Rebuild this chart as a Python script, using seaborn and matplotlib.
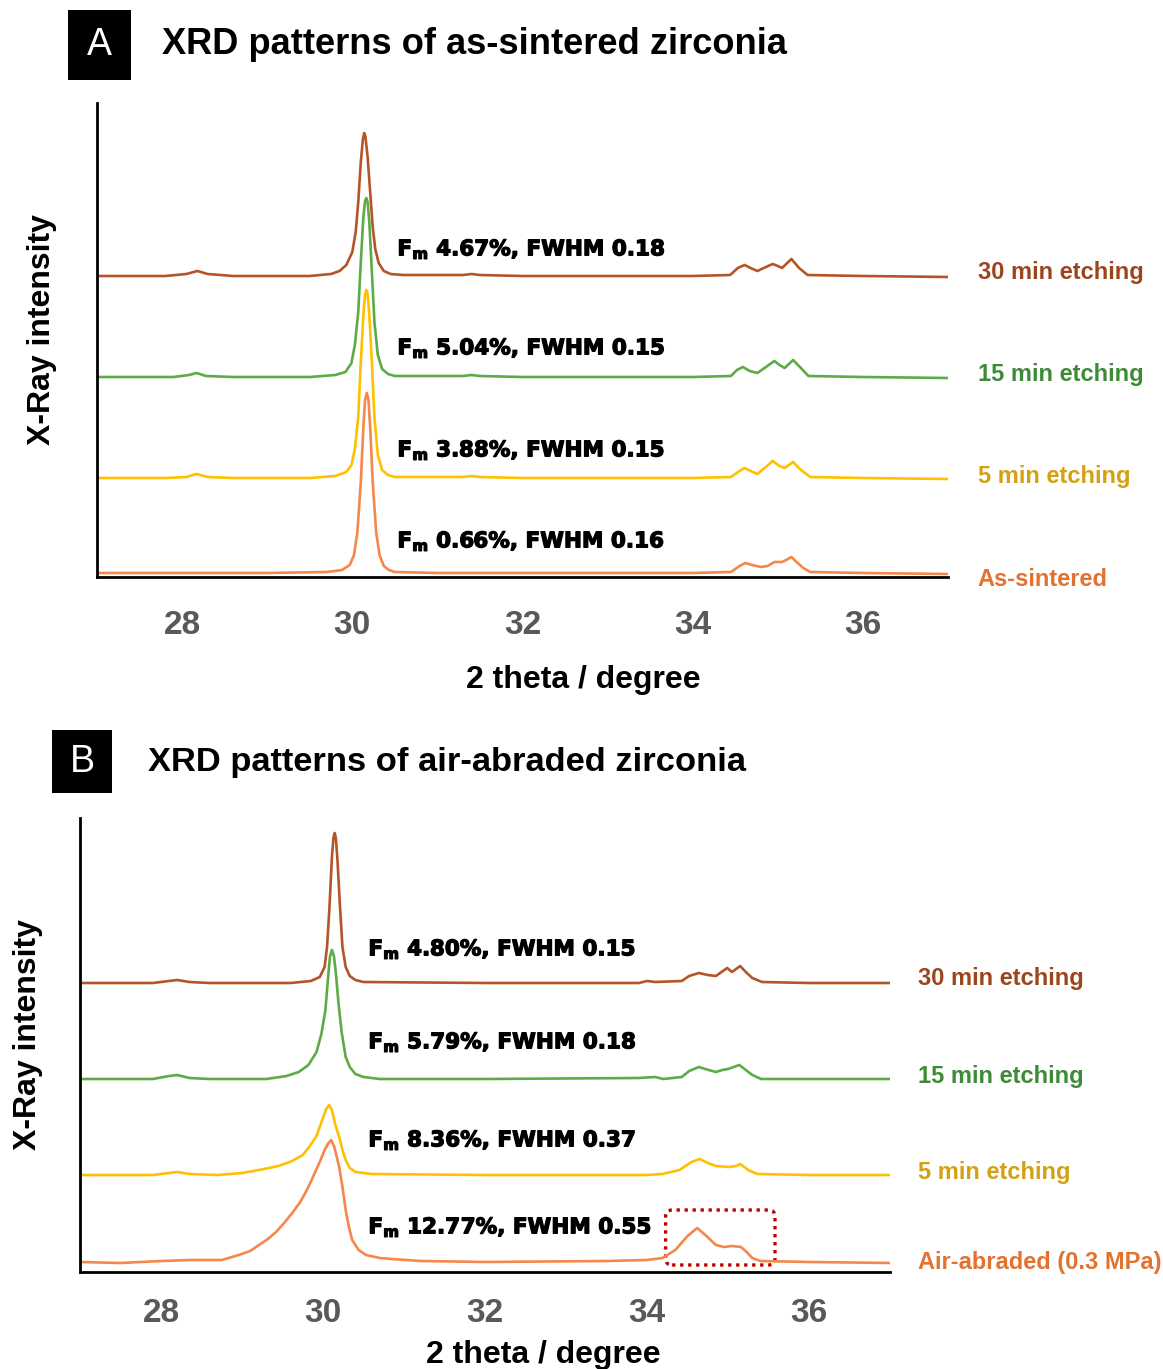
import matplotlib
matplotlib.use("Agg")
import matplotlib.pyplot as plt
import matplotlib.patheffects as pe
from matplotlib.patches import Rectangle, FancyBboxPatch
import pandas as pd
import seaborn as sns

# ---- data (x = 2 theta, y = stacked intensity, a.u.) ----
# panel A: as-sintered zirconia
a_sint_x = [27.0, 28.0, 29.0, 29.7, 29.88, 29.97, 30.02, 30.06, 30.1, 30.13, 30.15, 30.17, 30.19, 30.21,
            30.24, 30.28, 30.32, 30.37, 30.43, 30.5, 31.0, 32.0, 33.0, 34.0, 34.45, 34.55, 34.62, 34.7,
            34.8, 34.88, 34.96, 35.05, 35.1, 35.16, 35.22, 35.3, 35.38, 36.0, 37.0]
a_sint_y = [4, 4, 4, 5, 7, 12, 22, 45, 95, 150, 177, 184, 177, 150,
            95, 45, 22, 11, 7, 5, 4, 4, 4, 4, 5, 11, 14, 12,
            10, 11, 15, 15, 17, 20, 15, 9, 5, 4, 3]

a_5min_x = [27.0, 27.8, 28.05, 28.17, 28.3, 28.6, 29.5, 29.8, 29.93, 29.99, 30.03, 30.07, 30.1, 30.13,
            30.15, 30.165, 30.18, 30.2, 30.23, 30.26, 30.3, 30.35, 30.42, 30.5, 31.3, 31.4, 31.5, 32.0,
            34.0, 34.45, 34.55, 34.61, 34.68, 34.76, 34.86, 34.94, 35.02, 35.08, 35.18, 35.26, 35.38,
            36.0, 37.0]
a_5min_y = [99, 99, 100, 103, 100, 99, 99, 101, 105, 112, 128, 160, 215, 262,
            283, 287, 283, 262, 215, 160, 122, 107, 102, 100, 100, 101, 100, 99,
            99, 100, 106, 109, 106, 103, 110, 116, 111, 109, 115, 108, 100,
            99, 98]

a_15min_x = [27.0, 27.9, 28.08, 28.17, 28.28, 28.6, 29.5, 29.8, 29.92, 29.99, 30.03, 30.07, 30.1, 30.13,
             30.15, 30.165, 30.18, 30.2, 30.23, 30.26, 30.3, 30.35, 30.42, 30.5, 31.3, 31.4, 31.5, 32.0,
             34.0, 34.45, 34.52, 34.59, 34.67, 34.76, 34.86, 34.96, 35.02, 35.08, 35.18, 35.26, 35.36,
             36.0, 37.0]
a_15min_y = [200, 200, 202, 204, 201, 200, 200, 202, 205, 214, 232, 265, 315, 360,
             376, 379, 375, 355, 305, 255, 222, 208, 203, 201, 201, 202, 201, 200,
             200, 201, 207, 210, 206, 204, 210, 216, 212, 209, 217, 210, 201,
             200, 199]

a_30min_x = [27.0, 27.8, 28.05, 28.18, 28.3, 28.6, 29.5, 29.75, 29.85, 29.93, 30.0, 30.04, 30.07, 30.1,
             30.125, 30.14, 30.155, 30.18, 30.21, 30.24, 30.27, 30.31, 30.37, 30.45, 30.6, 31.3, 31.4,
             31.5, 32.0, 34.0, 34.44, 34.53, 34.61, 34.68, 34.76, 34.86, 34.94, 35.0, 35.05, 35.16,
             35.25, 35.35, 36.0, 37.0]
a_30min_y = [301, 301, 303, 306, 303, 301, 301, 303, 306, 312, 325, 345, 375, 415,
             438, 444, 440, 420, 385, 350, 328, 314, 306, 303, 302, 302, 303,
             302, 301, 301, 302, 309, 312, 309, 306, 310, 313, 311, 309, 318,
             309, 302, 301, 300]

# panel B: air-abraded zirconia
b_abr_x = [27.0, 27.5, 28.0, 28.38, 28.75, 28.96, 29.1, 29.21, 29.32, 29.42, 29.52, 29.62, 29.72, 29.8,
           29.86, 29.92, 29.97, 30.02, 30.06, 30.1, 30.14, 30.2, 30.24, 30.28, 30.32, 30.36, 30.44, 30.53,
           30.7, 30.85, 31.2, 32.0, 33.5, 34.0, 34.19, 34.35, 34.5, 34.62, 34.72, 34.85, 34.95, 35.05,
           35.16, 35.23, 35.3, 35.4, 36.0, 37.0]
b_abr_y = [10, 9, 11, 12, 12, 17, 21, 27, 33, 40, 49, 59, 70, 82,
           92, 103, 112, 122, 128, 132, 125, 105, 85, 62, 45, 32, 22, 17,
           14, 13, 11, 10, 11, 12, 14, 22, 36, 44, 37, 27, 25, 26,
           25, 20, 14, 11, 10, 9]

b_5min_x = [27.0, 27.9, 28.1, 28.2, 28.35, 28.7, 29.0, 29.21, 29.45, 29.62, 29.75, 29.83, 29.92, 29.99,
            30.04, 30.075, 30.11, 30.15, 30.2, 30.24, 30.28, 30.33, 30.4, 30.6, 32.0, 34.0, 34.19, 34.4,
            34.55, 34.65, 34.75, 34.85, 35.01, 35.1, 35.15, 35.25, 35.36, 36.0, 37.0]
b_5min_y = [97, 97, 99, 100, 98, 97, 99, 102, 106, 111, 117, 125, 136, 152,
            163, 167, 162, 148, 135, 122, 112, 104, 100, 98, 97, 97, 98, 102,
            110, 113, 109, 106, 105, 106, 108, 102, 98, 97, 97]

b_15min_x = [27.0, 27.9, 28.1, 28.2, 28.35, 28.6, 29.3, 29.55, 29.7, 29.82, 29.92, 29.98, 30.03, 30.06,
             30.085, 30.11, 30.135, 30.16, 30.19, 30.23, 30.28, 30.33, 30.4, 30.5, 30.7, 32.0, 33.9,
             34.1, 34.2, 34.43, 34.52, 34.64, 34.72, 34.85, 34.93, 35.0, 35.07, 35.14, 35.22, 35.3,
             35.41, 36.0, 37.0]
b_15min_y = [193, 193, 196, 197, 194, 193, 193, 196, 200, 207, 220, 238, 262, 292,
             315, 322, 316, 298, 270, 240, 215, 205, 198, 195, 193, 193, 194,
             195, 193, 195, 201, 205, 203, 200, 202, 203, 205, 207, 202, 197,
             193, 193, 193]

b_30min_x = [27.0, 27.9, 28.1, 28.2, 28.35, 28.6, 29.6, 29.85, 29.96, 30.02, 30.05, 30.08, 30.11, 30.13,
             30.145, 30.16, 30.18, 30.21, 30.24, 30.28, 30.33, 30.4, 30.5, 32.0, 33.9, 34.0, 34.1,
             34.43, 34.52, 34.64, 34.75, 34.85, 34.92, 34.99, 35.05, 35.15, 35.22, 35.3, 35.42, 36.0, 37.0]
b_30min_y = [289, 289, 291, 292, 290, 289, 289, 291, 295, 305, 325, 365, 415, 435,
             439, 433, 410, 365, 325, 305, 296, 292, 290, 289, 289, 291, 290,
             291, 296, 299, 297, 296, 300, 304, 300, 306, 300, 294, 290, 289, 289]

series_names_a = ["As-sintered", "5 min etching", "15 min etching", "30 min etching"]
series_names_b = ["Air-abraded (0.3 MPa)", "5 min etching", "15 min etching", "30 min etching"]
fm_labels_a = ["0.66%, FWHM 0.16", "3.88%, FWHM 0.15", "5.04%, FWHM 0.15", "4.67%, FWHM 0.18"]
fm_labels_b = ["12.77%, FWHM 0.55", "8.36%, FWHM 0.37", "5.79%, FWHM 0.18", "4.80%, FWHM 0.15"]
tick_pos = list(range(27, 38))
tick_labels = ["", "28", "", "30", "", "32", "", "34", "", "36", ""]

line_colors = ["#f5874a", "#ffc000", "#5cab46", "#b45528"]
text_colors = ["#e2722e", "#d3a112", "#3d8b37", "#9c451d"]

sns.set_theme(style="white")
plt.rcParams["font.family"] = ["Liberation Sans", "DejaVu Sans"]

fig = plt.figure(figsize=(11.63, 13.69), dpi=100)
W, H = 1163, 1369


def px_axes(left, top, right, bottom):
    return fig.add_axes([left / W, 1 - bottom / H, (right - left) / W, (bottom - top) / H])


def draw_panel(ax, curves, names, fm_texts, ylim, fm_y, name_y, fm_x, name_x, xlab, ylab, tick_pad):
    for (xs, ys), col in zip(curves, line_colors):
        df = pd.DataFrame({"x": xs, "y": ys})
        sns.lineplot(data=df, x="x", y="y", ax=ax, color=col, lw=1.9, estimator=None, sort=False)
    ax.set_xlim(27, 37)
    ax.set_ylim(*ylim)
    ax.set_xticks(tick_pos)
    ax.set_xticklabels(tick_labels)
    ax.set_yticks([])
    ax.tick_params(axis="x", direction="out", length=9, width=2, color="black", pad=tick_pad,
                   labelsize=24, labelcolor="#595959")
    for lab in ax.get_xticklabels():
        lab.set_fontweight("bold")
    sns.despine(ax=ax)
    for s in ["left", "bottom"]:
        ax.spines[s].set_color("black")
        ax.spines[s].set_linewidth(2)
    ax.set_xlabel("2 theta / degree", fontsize=23, fontweight="bold", color="black", va="center")
    ax.xaxis.set_label_coords(*xlab)
    ax.set_ylabel("X-Ray intensity", fontsize=23, fontweight="bold", color="black", va="center")
    ax.yaxis.set_label_coords(*ylab)
    heavy = [pe.withStroke(linewidth=0.9, foreground="black")]
    for txt, y in zip(fm_texts, fm_y):
        ax.text(fm_x, y, r"F$_\mathregular{m}$ " + txt, fontsize=15.5, fontweight="bold",
                family="DejaVu Sans", color="black", va="baseline", ha="left", path_effects=heavy)
    for nm, y, c in zip(names, name_y, text_colors):
        ax.text(name_x, y, nm, fontsize=17, fontweight="bold", color=c, va="center", ha="left",
                clip_on=False)


def panel_title(letter, box, title_x, title_y, title, size):
    l, t, r, b = box
    fig.patches.append(Rectangle((l / W, 1 - b / H), (r - l) / W, (b - t) / H, transform=fig.transFigure,
                                 facecolor="black", edgecolor="none"))
    fig.text((l + r) / 2 / W, 1 - (t + b) / 2 / H, letter, color="white", fontsize=27,
             ha="center", va="center")
    fig.text(title_x / W, 1 - title_y / H, title, fontsize=size, fontweight="bold", color="black",
             ha="left", va="center")


ax_a = px_axes(97, 103, 948, 577)
draw_panel(ax_a,
           [(a_sint_x, a_sint_y), (a_5min_x, a_5min_y), (a_15min_x, a_15min_y), (a_30min_x, a_30min_y)],
           series_names_a, fm_labels_a, (0, 474),
           fm_y=[29.5, 120.5, 222.5, 321.5], name_y=[-3, 100, 202, 304],
           fm_x=30.53, name_x=37.35, xlab=(0.571, -0.217), ylab=(-0.0646, 0.523), tick_pad=15)

ax_b = px_axes(80, 818, 890, 1272)
draw_panel(ax_b,
           [(b_abr_x, b_abr_y), (b_5min_x, b_5min_y), (b_15min_x, b_15min_y), (b_30min_x, b_30min_y)],
           series_names_b, fm_labels_b, (0, 454),
           fm_y=[38.5, 125.5, 223.5, 316.5], name_y=[10, 99, 196, 293],
           fm_x=30.56, name_x=37.35, xlab=(0.572, -0.183), ylab=(-0.0642, 0.522), tick_pad=10)

# dotted box around the monoclinic peaks of the air-abraded sample
box_x0, box_x1, box_y0, box_y1 = 34.23, 35.58, 7, 62
ax_b.add_patch(FancyBboxPatch((box_x0, box_y0), box_x1 - box_x0, box_y1 - box_y0,
                              boxstyle="round,pad=0,rounding_size=0.08", mutation_aspect=81,
                              fill=False, edgecolor="#c00000", lw=2.4, linestyle=(0, (1, 1.4)),
                              clip_on=False))

panel_title("A", (68, 10, 131, 80), 162, 45, "XRD patterns of as-sintered zirconia", 26.1)
panel_title("B", (52, 730, 112, 793), 148, 763, "XRD patterns of air-abraded zirconia", 24.8)

fig.savefig("out.png", dpi=100)
